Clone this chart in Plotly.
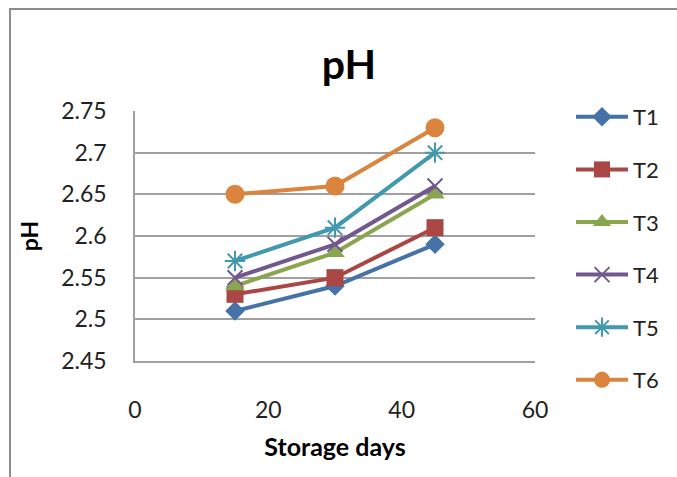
import plotly.graph_objects as go

days = [15, 30, 45]
series_names = ["T1", "T2", "T3", "T4", "T5", "T6"]
T1 = [2.51, 2.54, 2.59]
T2 = [2.53, 2.55, 2.61]
T3 = [2.54, 2.58, 2.65]
T4 = [2.55, 2.59, 2.66]
T5 = [2.57, 2.61, 2.70]
T6 = [2.65, 2.66, 2.73]
values = [T1, T2, T3, T4, T5, T6]
y_ticks = [2.45, 2.5, 2.55, 2.6, 2.65, 2.7, 2.75]
y_tick_labels = ["2.45", "2.5", "2.55", "2.6", "2.65", "2.7", "2.75"]
x_ticks = [0, 20, 40, 60]

colors = ["#4572A7", "#AA4643", "#89A54E", "#71588F", "#4198AF", "#DB843D"]
symbols = ["diamond", "square", "triangle-up", "x-thin-open", "asterisk-open", "circle"]
sizes = [15, 17, 17, 15, 17, 19]

FONT = "Lato, 'Liberation Sans', sans-serif"
TITLE_FONT = "'Liberation Sans Narrow', 'Arial Narrow', Lato, sans-serif"

fig = go.Figure()
for i, (name, vals) in enumerate(zip(series_names, values)):
    fig.add_trace(go.Scatter(
        x=days, y=vals, name=name, mode="lines+markers",
        legendgroup=name,
        line=dict(color=colors[i], width=4),
        marker=dict(symbol=symbols[i], size=sizes[i], color=colors[i],
                    line=dict(color=colors[i], width=2 if i in (3, 4) else 0)),
    ))

W, H = 677, 477
L, R, T, B = 135, 677 - 535, 111, 477 - 361
pw, ph = W - L - R, H - T - B

def px(xp):
    return (xp - L) / pw

def py(yp):
    return (H - B - yp) / ph

fig.update_layout(
    width=W, height=H,
    margin=dict(l=L, r=R, t=T, b=B, autoexpand=False),
    paper_bgcolor="white", plot_bgcolor="white",
    font=dict(family=FONT, size=23, color="#222"),
    title=dict(text="<b>pH</b>", x=px(349), xref="paper", xanchor="center",
               y=1 - 65 / H, yanchor="middle",
               font=dict(family=TITLE_FONT, size=41, color="black")),
    showlegend=True,
    legend=dict(x=px(571), y=py(96), xanchor="left", yanchor="top",
                font=dict(family=FONT, size=22, color="#222"),
                tracegroupgap=21, bgcolor="rgba(0,0,0,0)", maxheight=470,
                itemwidth=52),
    xaxis=dict(range=[0, 60], tickvals=x_ticks, showgrid=False, zeroline=False,
               showline=True, linecolor="#A0A0A0", linewidth=1.5,
               ticks="", ticklabelstandoff=28,
               title=dict(text="<b>Storage days</b>", standoff=16,
                          font=dict(family=FONT, size=25, color="black"))),
    yaxis=dict(range=[2.45, 2.75], tickvals=y_ticks, ticktext=y_tick_labels,
               showgrid=True, gridcolor="#A0A0A0", gridwidth=1.5, zeroline=False,
               showline=True, linecolor="#A0A0A0", linewidth=1.5,
               ticks="", ticklabelstandoff=22,
               title=dict(text="<b>pH</b>", standoff=16,
                          font=dict(family=FONT, size=23, color="black"))),
    shapes=[dict(type="rect", xref="paper", yref="paper",
                 x0=px(10), y0=py(700), x1=px(900), y1=py(9),
                 line=dict(color="#8C8C8C", width=2), layer="below")],
)

fig.write_html("out.html")
